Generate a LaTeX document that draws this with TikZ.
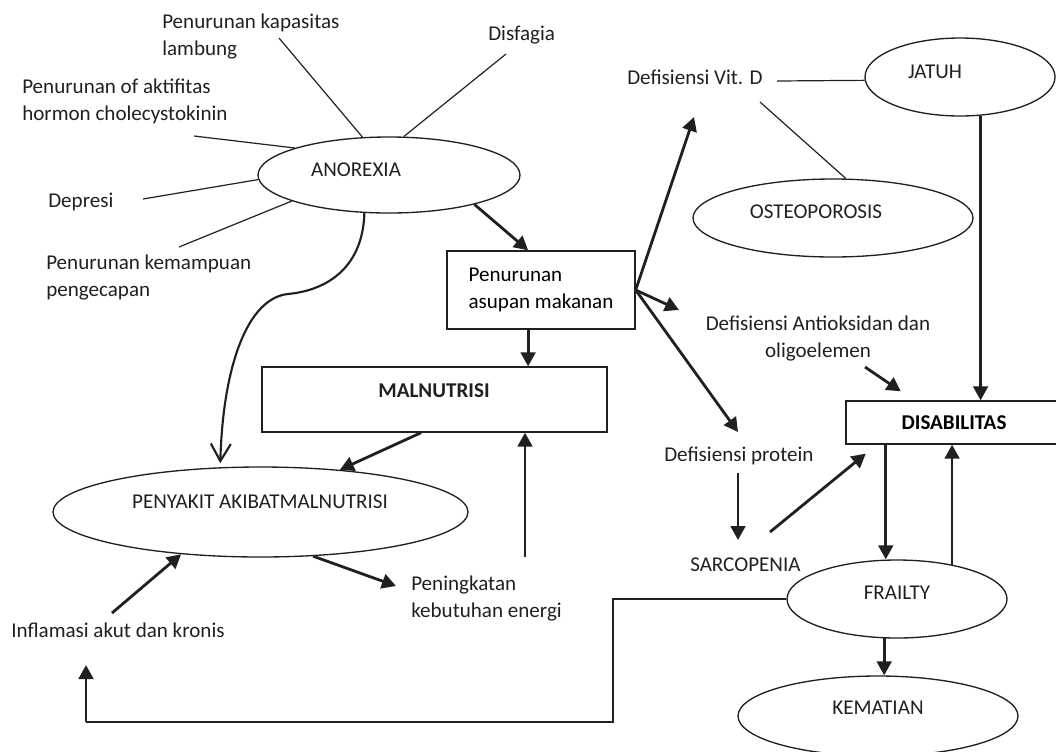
\documentclass[tikz,border=0pt]{standalone}
\usepackage{fontspec}
\setmainfont{Carlito}
\usetikzlibrary{positioning,arrows.meta,shapes.geometric,calc}
\definecolor{ink}{HTML}{231F20}
\newcommand{\pxl}{0.75pt}
\tikzset{
  oval/.style={ellipse,draw=ink,line width=1pt,inner sep=0pt},
  blk/.style={rectangle,draw=ink,line width=1pt,inner sep=0pt},
  txt/.style={inner sep=0pt,text=ink,align=left},
  lnk/.style={draw=ink,line width=0.9pt},
  loopln/.style={draw=ink,line width=1.3pt},
  ar/.style={-{Triangle[length=10.5pt,width=11pt]},line width=2.1pt,draw=ink},
  curv/.style={-{Straight Barb[length=13pt,width=15pt]},line width=1.6pt,draw=ink},
}

\begin{document}
\begin{tikzpicture}[x=0.75pt,y=-0.75pt,font=\fontsize{15.8}{20.25}\selectfont]
  \useasboundingbox (0,0) rectangle (1056,751);
  % shapes
  \node[oval,minimum width=262*\pxl,minimum height=76*\pxl] (anorexia) at (389,175) {};
  \node[txt] (anorexia-t) at (356,170) {ANOREXIA};
  \node[blk,minimum width=188*\pxl,minimum height=78*\pxl,align=left] (asupan) at (541,290) {Penurunan\\asupan makanan};
  \node[blk,minimum width=345*\pxl,minimum height=65*\pxl] (malnutrisi) at (434.5,399.5) {};
  \node[txt] (malnutrisi-t) at (434,391) {\bfseries MALNUTRISI};
  \node[oval,minimum width=415*\pxl,minimum height=90*\pxl] (penyakit) at (260.5,512) {};
  \node[txt] (penyakit-t) at (260,502) {PENYAKIT AKIBATMALNUTRISI};
  \node[oval,minimum width=190*\pxl,minimum height=78*\pxl] (jatuh) at (960,77) {};
  \node[txt] (jatuh-t) at (935,72) {JATUH};
  \node[oval,minimum width=280*\pxl,minimum height=78*\pxl] (osteo) at (833,218) {};
  \node[txt] (osteo-t) at (816,212) {OSTEOPOROSIS};
  \node[blk,minimum width=216*\pxl,minimum height=43*\pxl] (disab) at (954,422.5) {\bfseries DISABILITAS};
  \node[oval,minimum width=220*\pxl,minimum height=78*\pxl] (frailty) at (897,599) {};
  \node[txt] (frailty-t) at (897,593) {FRAILTY};
  \node[oval,minimum width=280*\pxl,minimum height=80*\pxl] (kematian) at (878,716) {};
  \node[txt] (kematian-t) at (878,708) {KEMATIAN};

  % labels
  \node[txt,anchor=west] (kapasitas) at (162,36.5) {Penurunan kapasitas\\lambung};
  \node[txt,anchor=west] (disfagia) at (488,35) {Disfagia};
  \node[txt,anchor=west] (aktifitas) at (22,101) {Penurunan of aktifitas\\hormon cholecystokinin};
  \node[txt,anchor=west] (depresi) at (48,202) {Depresi};
  \node[txt,anchor=west] (kemampuan) at (46,277.5) {Penurunan kemampuan\\pengecapan};
  \node[txt,anchor=west] (vitd) at (627,77) {Defisiensi Vit. D};
  \node[txt,align=center] (antioks) at (818,338) {Defisiensi Antioksidan dan\\oligoelemen};
  \node[txt,anchor=west] (protein) at (664,456) {Defisiensi protein};
  \node[txt,anchor=west] (sarcopenia) at (690,565) {SARCOPENIA};
  \node[txt,anchor=west] (energi) at (411,598) {Peningkatan\\kebutuhan energi};
  \node[txt,anchor=west] (inflamasi) at (11,630) {Inflamasi akut dan kronis};

  % free ends
  \coordinate (kap-e) at (279,38);
  \coordinate (dis-e) at (506,54);
  \coordinate (akt-e) at (194,136);
  \coordinate (dep-e) at (143,199);
  \coordinate (kem-e) at (179,247);
  \coordinate (vit-e) at (777,81);
  \coordinate (vit-s) at (760,102);
  \coordinate (vit-a) at (694,117);
  \coordinate (ant-a) at (679,310);
  \coordinate (pro-a) at (738,432);
  \coordinate (ant-s) at (865,367);
  \coordinate (pro-s) at (738,473);
  \coordinate (sar-a) at (738,540);
  \coordinate (sar-s) at (770,532);
  \coordinate (en-s) at (525,557);
  \coordinate (en-a) at (396,586);
  \coordinate (inf-s) at (112,613);
  \coordinate (lp1) at (613,722);
  \coordinate (lp2) at (86,722);
  \coordinate (inf-a) at (86,665);

  % causes of anorexia
  \foreach \p/\a in {kap-e/125,dis-e/69,akt-e/164,dep-e/182,kem-e/195}
    \draw[lnk] (\p) -- (anorexia.\a);
  \draw[lnk] (vit-e) -- (jatuh.182);
  \draw[lnk] (vit-s) -- (osteo.72);

  % arrows
  \draw[ar] (anorexia.-19) -- (asupan.108);
  \draw[ar] (asupan.-108) -- (asupan.-108 |- malnutrisi.north);
  \foreach \t in {vit-a,ant-a,pro-a} \draw[ar] (asupan.east) -- (\t);
  \draw[ar] (malnutrisi.-112.6) -- (penyakit.28);
  \draw[ar] (en-s) -- (en-s |- malnutrisi.south);
  \draw[ar] (penyakit.-40.6) -- (en-a);
  \draw[ar] (inf-s) -- (penyakit.-152.4);
  \draw[curv,shorten >=3pt] (anorexia.-123) .. controls (363,265) and (330,290) .. (288,294)
    .. controls (248,298) and (223,365) .. (penyakit.132.6);
  \draw[ar,shorten >=12pt] (ant-s) -- (disab.151.7);
  \draw[ar] (jatuh.-62) -- (jatuh.-62 |- disab.north);
  \draw[ar] (pro-s) -- (sar-a);
  \draw[ar,shorten >=10.6pt] (sar-s) -- (disab.-164.6);
  \draw[ar] (disab.-162.2) -- (disab.-162.2 |- frailty.north);
  \draw[ar] (frailty.32.2) -- (frailty.32.2 |- disab.south);
  \draw[ar] (frailty.-108.6) -- (frailty.-108.6 |- kematian.north);
  \draw[loopln] (frailty.west) -| (lp1) -- (lp2);
  \draw[ar] (lp2) -- (inf-a);
\end{tikzpicture}
\end{document}
